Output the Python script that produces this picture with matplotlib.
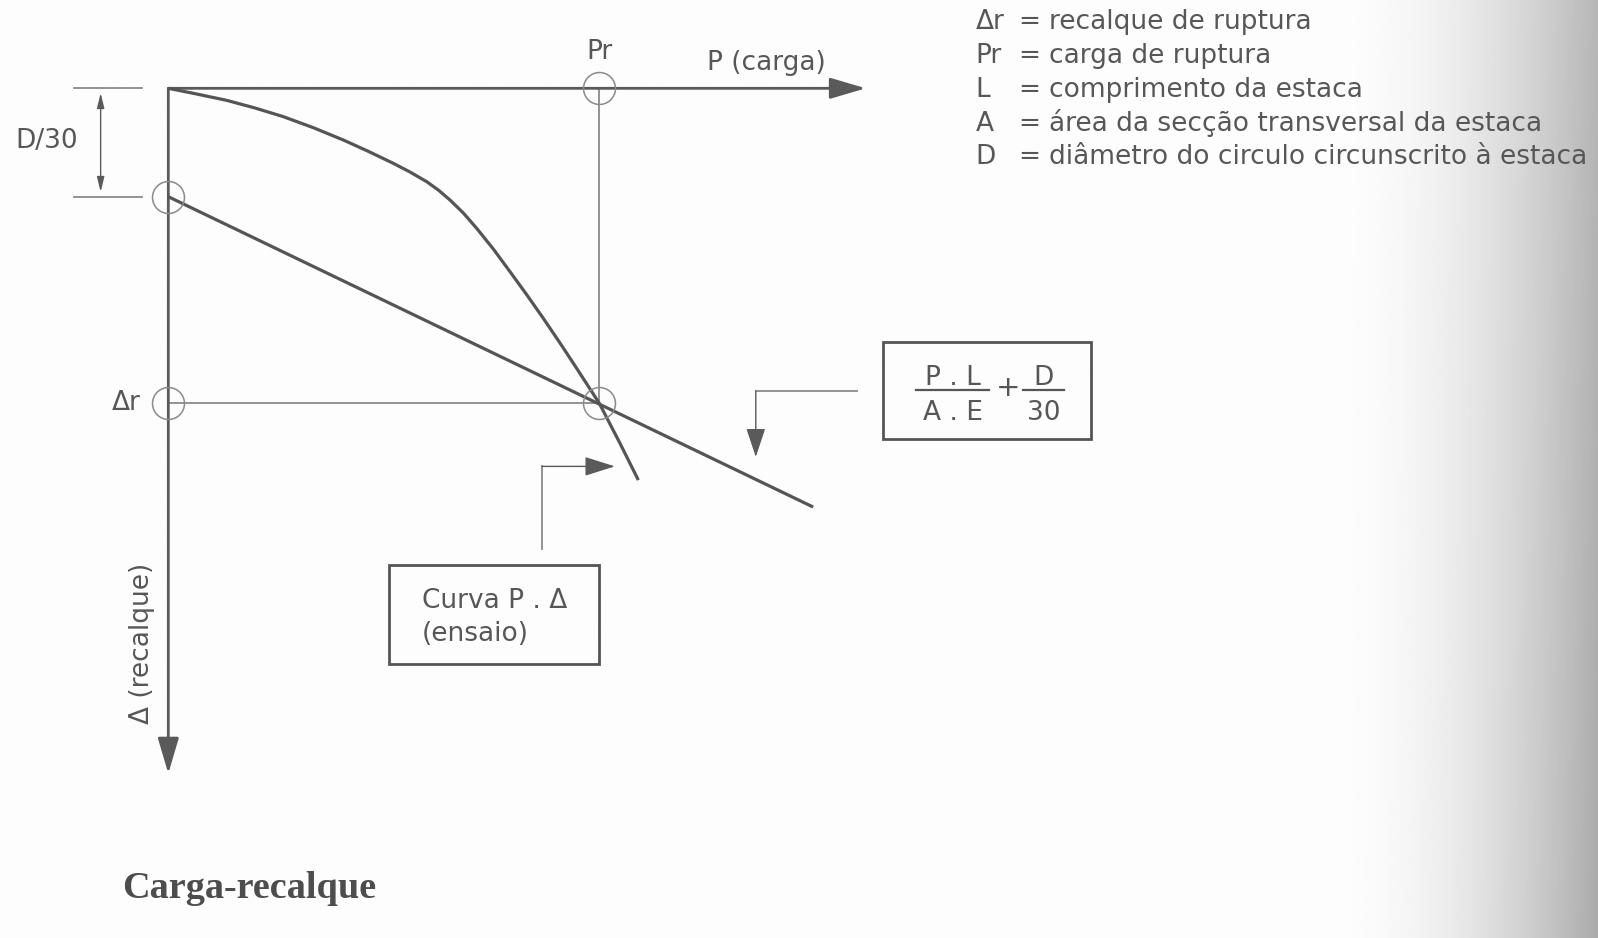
import numpy as np
import matplotlib
matplotlib.use("Agg")
import matplotlib.pyplot as plt
from matplotlib.patches import Rectangle

# ---------------- data ----------------
# load-settlement test curve (P in % of Pr, settlement in % of Δr)
carga_curva = [0.0, 6.58, 13.54, 20.12, 26.69, 33.65, 40.61, 46.41, 52.21, 56.08, 59.95,
               62.65, 65.36, 68.45, 71.55, 75.41, 79.28, 83.15, 87.01, 90.88, 94.75,
               100.0, 104.8, 109.05]
recalque_curva = [0.0, 1.81, 3.82, 6.25, 9.0, 12.5, 16.41, 20.01, 23.82, 26.57, 29.64,
                  32.29, 35.46, 39.59, 44.45, 51.02, 58.21, 65.51, 73.03, 80.86, 88.9,
                  100.0, 112.7, 124.35]
# straight line  P.L/(A.E) + D/30
reta_carga = [0.0, 149.6]
reta_recalque = [34.4, 132.9]
carga_ruptura = 100.0
recalque_ruptura = 100.0
d_30 = 34.4
eixo_carga_max = 161.8
eixo_recalque_max = 217.5
legenda_simbolos = ["Δr", "Pr", "L", "A", "D"]
legenda_textos = ["recalque de ruptura", "carga de ruptura", "comprimento da estaca",
                  "área da secção transversal da estaca",
                  "diâmetro do circulo circunscrito à estaca"]

# ---------------- figure ----------------
W, H = 1598, 938
fig = plt.figure(figsize=(W / 100, H / 100), dpi=100)
ax = fig.add_axes([0, 0, 1, 1])
XL = (-39.05, 331.7)
YL = (269.7, -28.03)
ax.set_xlim(*XL)
ax.set_ylim(*YL)
ax.axis("off")
plt.rcParams["font.family"] = ["DejaVu Sans"]

# paper background with darker right edge (scan)
px = np.linspace(0, W, 600)
py = np.linspace(0, H, 200)[:, None]
t = np.clip((px - 1330) / 268.0, 0, 1)[None, :]
g = 253 - 70 * t ** 1.9 - 12 * t ** 2 * (py / H)
ax.imshow(g, cmap="gray", vmin=0, vmax=255, extent=(XL[0], XL[1], YL[0], YL[1]),
          aspect="auto", zorder=0, interpolation="bilinear")

AX = "#5a5a5a"
THIN = "#8a8a8a"
TXT = "#575757"
FS = 19

# axes with arrows
for tip in [(eixo_carga_max, 0), (0, eixo_recalque_max)]:
    ax.annotate("", xy=tip, xytext=(0, 0),
                arrowprops=dict(arrowstyle="-|>,head_length=22,head_width=6.5", color=AX,
                                lw=2.0, shrinkA=0, shrinkB=0, mutation_scale=1), zorder=3)

# construction lines
ax.plot([carga_ruptura, carga_ruptura], [0, recalque_ruptura], color=THIN, lw=1.3, zorder=2)
ax.plot([0, carga_ruptura], [recalque_ruptura, recalque_ruptura], color=THIN, lw=1.3, zorder=2)

# curve and straight line
ax.plot(carga_curva, recalque_curva, color="#555555", lw=2.3, zorder=4,
        solid_joinstyle="round", solid_capstyle="butt")
ax.plot(reta_carga, reta_recalque, color="#555555", lw=2.3, zorder=4, solid_capstyle="butt")

# circles
ax.plot([0, carga_ruptura, 0, carga_ruptura], [d_30, 0, recalque_ruptura, recalque_ruptura],
        "o", mfc="none", mec=THIN, ms=23, mew=1.1, zorder=5)

# D/30 dimension
ax.plot([-21.9, -6.2], [0, 0], color=THIN, lw=1.3)
ax.plot([-21.9, -6.2], [d_30, d_30], color=THIN, lw=1.3)
ax.annotate("", xy=(-15.7, d_30 - 1.5), xytext=(-15.7, 1.5),
            arrowprops=dict(arrowstyle="<|-|>,head_length=9,head_width=2.2", color=AX,
                            lw=1.0, shrinkA=0, shrinkB=0, mutation_scale=1))

# axis labels
ax.text(carga_ruptura, -9.3, "Pr", ha="center", va="baseline", fontsize=FS, color=TXT)
ax.text(138.7, -5.8, "P (carga)", ha="center", va="baseline", fontsize=FS, color=TXT)
ax.text(-28.3, 19.0, "D/30", ha="center", va="baseline", fontsize=FS, color=TXT)
ax.text(-6.3, 102.2, "Δr", ha="right", va="baseline", fontsize=FS, color=TXT)
ax.text(-6.0, 176.2, "Δ (recalque)", rotation=90, ha="center", va="center",
        fontsize=FS, color=TXT)

# box "Curva P . Δ (ensaio)"
ax.add_patch(Rectangle((51.2, 151.3), 48.8, 31.4, fill=False, ec="#555555", lw=2.0, zorder=4))
ax.text(58.8, 164.8, "Curva P . Δ", ha="left", va="baseline", fontsize=FS, color=TXT)
ax.text(58.8, 175.4, "(ensaio)", ha="left", va="baseline", fontsize=FS, color=TXT)
ax.plot([86.7, 86.7], [146.2, 120.0], color=THIN, lw=1.3)
ax.annotate("", xy=(103.6, 120.0), xytext=(86.7, 120.0),
            arrowprops=dict(arrowstyle="-|>,head_length=19,head_width=6", color=AX,
                            lw=1.0, shrinkA=0, shrinkB=0, mutation_scale=1))

# box formula
ax.add_patch(Rectangle((165.7, 80.4), 48.4, 30.9, fill=False, ec="#555555", lw=2.0, zorder=4))
ax.text(182.0, 94.3, "P . L", ha="center", va="baseline", fontsize=FS, color=TXT)
ax.text(182.0, 105.3, "A . E", ha="center", va="baseline", fontsize=FS, color=TXT)
ax.plot([173.5, 190.5], [95.8, 95.8], color="#555555", lw=1.6)
ax.text(194.8, 97.8, "+", ha="center", va="baseline", fontsize=FS + 2, color="#555555")
ax.text(203.0, 94.3, "D", ha="center", va="baseline", fontsize=FS, color=TXT)
ax.text(203.0, 105.3, "30", ha="center", va="baseline", fontsize=FS, color=TXT)
ax.plot([198.3, 207.9], [95.8, 95.8], color="#555555", lw=1.6)
ax.plot([159.8, 136.3], [96.0, 96.0], color=THIN, lw=1.3)
ax.annotate("", xy=(136.3, 117.0), xytext=(136.3, 96.0),
            arrowprops=dict(arrowstyle="-|>,head_length=18,head_width=6", color=AX,
                            lw=1.0, shrinkA=0, shrinkB=0, mutation_scale=1))

# legend (definitions)
y0, dy = -18.9, 10.77
for i, (s, d) in enumerate(zip(legenda_simbolos, legenda_textos)):
    y = y0 + i * dy
    ax.text(187.3, y, s, ha="left", va="baseline", fontsize=FS, color=TXT)
    ax.text(199.8, y, "=", ha="center", va="baseline", fontsize=FS, color=TXT)
    ax.text(204.4, y, d, ha="left", va="baseline", fontsize=FS, color=TXT)

# caption
ax.text(-10.7, 256.9, "Carga-recalque", ha="left", va="baseline",
        fontfamily="Liberation Serif", fontweight="bold", fontsize=27.5, color="#4d4d4d")

fig.savefig("out.png", dpi=100)
